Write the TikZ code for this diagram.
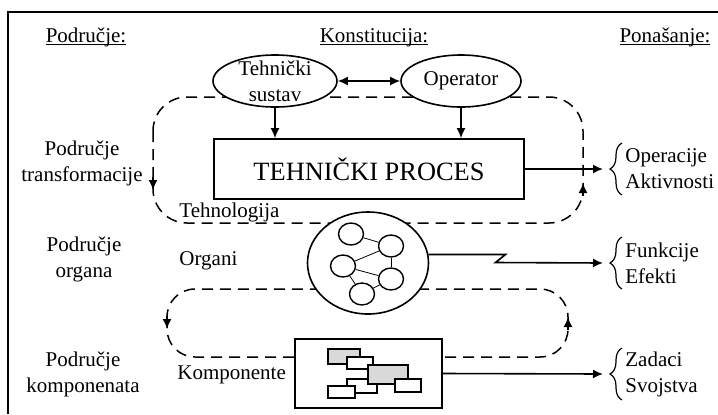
\documentclass[tikz,border=0pt]{standalone}
\usepackage{fontspec}
\setmainfont{Liberation Serif}
\usetikzlibrary{arrows.meta,shapes.geometric,decorations.pathreplacing}
\definecolor{cellgray}{gray}{0.85}

\begin{document}
\begin{tikzpicture}[x=0.5pt,y=-0.5pt,
		txt/.style={font=\fontsize{10.5}{13}\selectfont, inner sep=0pt},
		oval/.style={draw, fill=white, ellipse, line width=0.8pt, inner xsep=0pt, inner ysep=-6pt, font=\fontsize{10.5}{13}\selectfont, align=center},
		loopline/.style={dash pattern=on 5.5pt off 3.5pt, line width=0.75pt},
		arr/.style={-{Latex[length=5pt,width=4.5pt]}, line width=0.8pt},
		brc/.style={decorate, decoration={brace, amplitude=6pt}, line width=0.6pt},
		cell/.style={draw, line width=0.75pt},
		dot/.style={draw, fill=white, ellipse, line width=0.7pt, minimum width=12.5pt, minimum height=11pt, inner sep=0pt}]
		\useasboundingbox (0,0) rectangle (718,414);
		\draw[line width=0.8pt] (8,414) -- (8,12) -- (718,12);
		
		\node[txt, anchor=base] (hpod) at (86,42) {\underline{\smash{Područje:}}};
		\node[txt, anchor=base] (hkon) at (374,42) {\underline{\smash{Konstitucija:}}};
		\node[txt, anchor=base] (hpon) at (665,42) {\underline{\smash{Ponašanje:}}};
		
		% dashed loops
		\draw[loopline, rounded corners=17pt] (153,97) rectangle (583,223);
		\draw[loopline, rounded corners=14pt] (167,289) rectangle (568,357);
		\draw[arr] (153,177) -- (153,190);
		\draw[arr] (583,196) -- (583,183);
		\draw[arr] (167,316) -- (167,329);
		\draw[arr] (568,330) -- (568,317);
		
		\node[oval, minimum width=62pt, minimum height=26pt] (tsus) at (275,81) {Tehnički\\sustav};
		\node[oval, minimum width=60pt, minimum height=26pt] (oper) at (461,81) {Operator};
		\node[draw, line width=0.8pt, minimum width=155pt, minimum height=30pt, font=\fontsize{13.2}{16}\selectfont] (proc) at (369,169) {TEHNIČKI PROCES};
		\draw[arr, {Latex[length=5pt,width=4.5pt]}-{Latex[length=5pt,width=4.5pt]}] (tsus.east) -- (oper.west);
		\draw[arr] (tsus.south) -- (tsus.south |- proc.north);
		\draw[arr] (oper.south) -- (oper.south |- proc.north);
		
		\node[draw, fill=white, ellipse, line width=0.8pt, minimum width=60.5pt, minimum height=51pt, inner sep=0pt] (organ) at (368,263) {};
		\node[dot] (o1) at (351,234) {};
		\node[dot] (o2) at (391,246) {};
		\node[dot] (o3) at (343,266) {};
		\node[dot] (o4) at (391,279) {};
		\node[dot] (o5) at (362,294) {};
		\foreach \a/\b in {o1/o2, o3/o2, o2/o4, o3/o4, o3/o5, o5/o4}{
			\draw[thin] (\a) -- (\b);
		}
		
		\node[draw, fill=white, line width=0.8pt, minimum width=73.5pt, minimum height=34.5pt] (comp) at (368.5,373.5) {};
		\draw[cell, fill=white] (347,379) rectangle (377,393);
		\draw[cell, fill=cellgray] (328,349) rectangle (360,364);
		\draw[cell, fill=white] (347,357) rectangle (373,369);
		\draw[cell, fill=cellgray] (368,365) rectangle (408,384);
		\draw[cell, fill=white] (395,379) rectangle (421,392);
		\draw[cell, fill=white] (328,386) rectangle (355,398);
		
		\node[txt, align=center] (ltra) at (82,163) {Područje\\transformacije};
		\node[txt, align=center] (lorg) at (84,259) {Područje\\organa};
		\node[txt, align=center] (lkom) at (83,374) {Područje\\komponenata};
		\node[txt, anchor=base west] (tech) at (179,217) {Tehnologija};
		\node[txt, anchor=base west] (orgn) at (179,265) {Organi};
		\node[txt, anchor=base west] (kmp) at (177,379) {Komponente};
		
		\node[txt, align=left, anchor=west] (ops) at (625,169) {Operacije\\Aktivnosti};
		\node[txt, align=left, anchor=west] (fun) at (625,263) {Funkcije\\Efekti};
		\node[txt, align=left, anchor=west] (zad) at (625,374) {Zadaci\\Svojstva};
		\foreach \n in {ops, fun, zad}{
			\draw[brc] ([shift={(-3,26)}]\n.west) -- ([shift={(-3,-26)}]\n.west);
		}
		
		\draw[arr] (proc.east) -- ([xshift=-11pt]ops.west);
		\draw[arr] (organ.8) -- ++(77,0) -- ++(-10,8) -- ([xshift=-11pt]fun.west);
		\draw[arr] (comp.east) -- ([xshift=-11pt]zad.west);
\end{tikzpicture}
\end{document}
